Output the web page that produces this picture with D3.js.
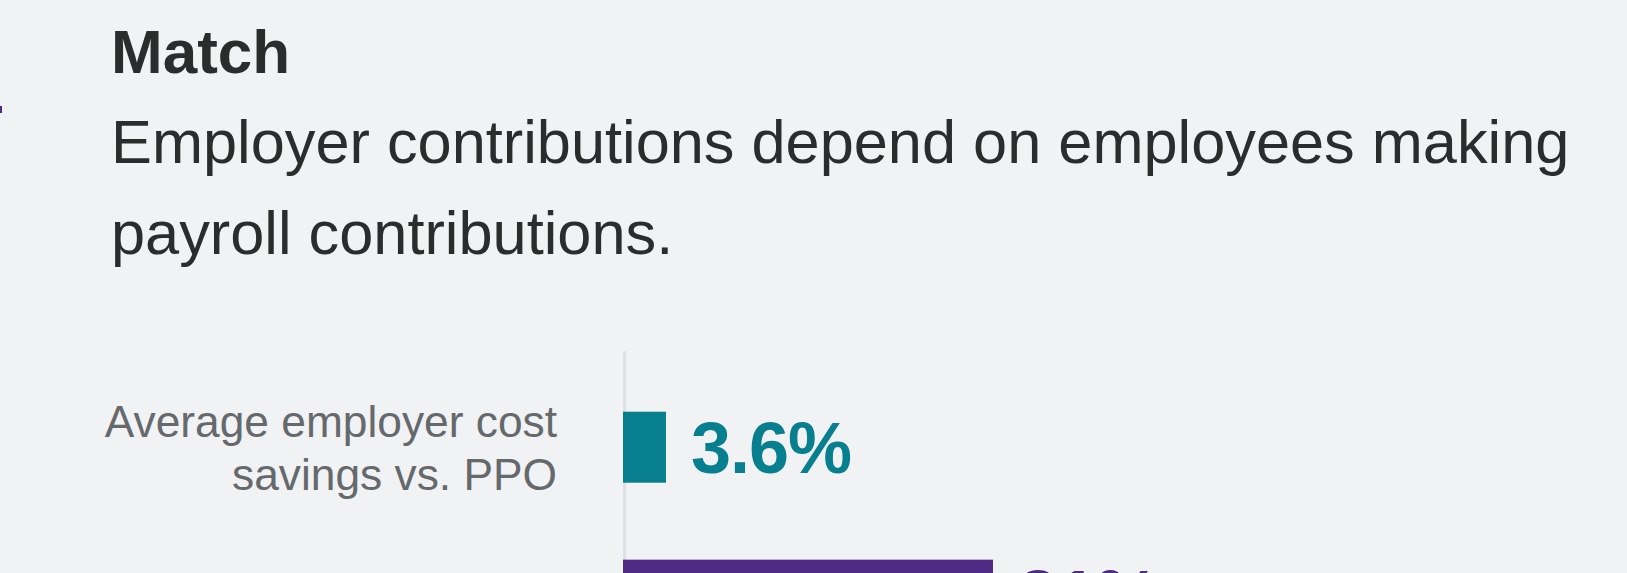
<!DOCTYPE html>
<html>
<head>
<meta charset="utf-8">
<script src="https://cdn.jsdelivr.net/npm/d3@7"></script>
<style>
    body { margin: 0; background: #f1f2f4; }
    svg { display: block; font-family: "Liberation Sans", Arial, Helvetica, sans-serif; }
</style>
</head>
<body>
<svg width="1627" height="573"></svg>
<script>
// Chart data
var categories = ['Average employer cost savings vs. PPO', 'Average employer match'];
// second row's label sits below the bottom edge of the picture, so it is not drawn
var labelLines = [['Average employer cost', 'savings vs. PPO'], []];
var values = [3.6, 31];
var valueLabels = ['3.6%', '31%'];
var barColors = ['#077f8e', '#4e2a84'];

var titleText = 'Match';
var subtitleLines = ['Employer contributions depend on employees making', 'payroll contributions.'];

var svg = d3.select('svg');

// Get layout parameters
var svgWidth = +svg.attr('width');
var svgHeight = +svg.attr('height');

var padding = {t: 351, l: 623};

// Background
svg.append('rect')
    .attr('width', svgWidth)
    .attr('height', svgHeight)
    .attr('fill', '#f1f2f4');

// little purple tick cut off at the left edge
svg.append('rect')
    .attr('x', 0)
    .attr('y', 106)
    .attr('width', 2)
    .attr('height', 7)
    .attr('fill', '#4e2a84');

// Title + subtitle
svg.append('text')
    .attr('x', 111)
    .attr('y', 73)
    .attr('fill', '#2b2d2d')
    .style('font-size', '62px')
    .style('font-weight', 'bold')
    .text(titleText);

svg.append('g')
    .selectAll('text')
    .data(subtitleLines)
    .enter()
    .append('text')
    .attr('x', 111)
    .attr('y', function(d, i) { return 163 + i * 91; })
    .attr('fill', '#2b2d2d')
    .style('font-size', '61.3px')
    .text(function(d) { return d; });

// Scales
var xScale = d3.scaleLinear()
    .domain([0, 31])
    .range([0, 370]);

var yScale = d3.scaleBand()
    .domain(categories)
    .range([60.7, 279.7])
    .paddingInner(0.52)
    .paddingOuter(0);

var chartG = svg.append('g')
    .attr('transform', 'translate(' + [padding.l, padding.t] + ')');

// zero line
var yAxisG = chartG.append('g')
    .attr('class', 'y axis')
    .call(d3.axisLeft(yScale).tickSize(0).tickFormat(''));

yAxisG.select('.domain')
    .attr('d', 'M1.5,0V' + (svgHeight - padding.t + 10))
    .attr('stroke', '#dfe0e3')
    .attr('stroke-width', 3);

var rows = chartG.selectAll('.row')
    .data(categories)
    .enter()
    .append('g')
    .attr('class', 'row')
    .attr('transform', function(d) {
        return 'translate(' + [0, yScale(d) + yScale.bandwidth() / 2] + ')';
    });

rows.append('rect')
    .attr('x', 0)
    .attr('y', -yScale.bandwidth() / 2)
    .attr('width', function(d, i) { return xScale(values[i]); })
    .attr('height', yScale.bandwidth())
    .attr('fill', function(d, i) { return barColors[i]; });

rows.append('text')
    .attr('x', function(d, i) { return xScale(values[i]) + 25; })
    .attr('y', 26)
    .attr('fill', function(d, i) { return barColors[i]; })
    .style('font-size', '72px')
    .style('font-weight', 'bold')
    .style('letter-spacing', '-1px')
    .text(function(d, i) { return valueLabels[i]; });

// Category labels, right aligned
rows.append('text')
    .attr('text-anchor', 'end')
    .attr('fill', '#65696c')
    .style('font-size', '44.3px')
    .selectAll('tspan')
    .data(function(d, i) { return labelLines[i]; })
    .enter()
    .append('tspan')
    .attr('x', -66)
    .attr('y', function(d, i, nodes) {
        var n = nodes.length;
        return (i - (n - 1) / 2) * 53.3 + 16;
    })
    .text(function(d) { return d; });
</script>
</body>
</html>
